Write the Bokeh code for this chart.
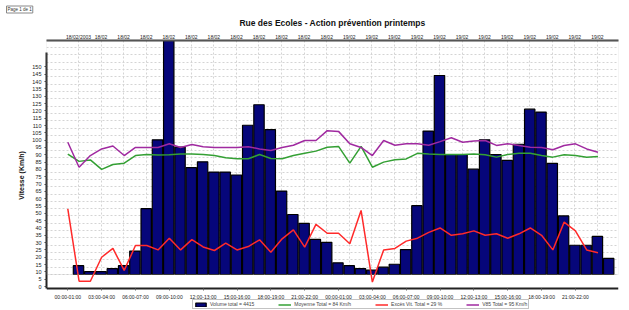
from bokeh.plotting import figure
from bokeh.models import (Range1d, LinearAxis, FixedTicker, Grid, Legend, LegendItem, Title,
                          BoxAnnotation)
from bokeh.embed import file_html
from bokeh.resources import INLINE

# ---------------- data ----------------
hours = list(range(48))

volume = [6, 2, 2, 4, 6, 16, 45, 92, 170, 87, 73, 77, 70, 70, 68, 102, 116, 99, 57, 41, 35, 24, 22, 8,
          6, 4, 3, 5, 7, 17, 47, 98, 136, 82, 82, 72, 92, 82, 78, 89, 113, 111, 76, 40, 20, 20, 26, 11]

moyenne = [90.5, 85.5, 86.5, 80, 83.4, 84.3, 89.5, 90.2, 89.8, 90, 90.5, 90.5, 90.2, 89.5, 88, 87.3,
           87.3, 90.2, 87.5, 87.3, 89.5, 91, 92.5, 95.2, 95.7, 84.3, 95.7, 81.5, 85, 86.6, 87.2, 91,
           90.5, 90.2, 90.2, 90.2, 90.5, 90, 88.4, 90.2, 91, 91, 89.5, 88.4, 90, 89.5, 88.4, 88.9]

exces = [53, 3.6, 3.6, 20, 26, 11, 28, 28, 25, 33, 25, 32, 27, 24.6, 29.6, 25, 27.3, 31.9, 23.4, 32.6,
         38.7, 26.9, 42.4, 36.4, 36.4, 29.2, 52, 3, 25, 26, 31, 33, 37, 40, 35, 36, 38, 35, 36, 33,
         36, 40, 35, 25, 44, 38, 25, 23]

v85 = [98.6, 81.5, 89.5, 94, 96, 89.5, 95, 95, 95, 97.5, 95, 97, 95.5, 95, 95, 95, 95.5, 94, 93, 95,
       96.5, 99.8, 99.8, 106.5, 106, 97.5, 95, 89.5, 99.8, 96.5, 97.5, 97.5, 96.5, 99, 101.6, 98.6,
       99.5, 99.8, 96.4, 97.5, 96.4, 95.2, 95, 93.4, 96.4, 97.5, 94, 91.8]

y_ticks = list(range(0, 155, 5))
bottom_ticks = list(range(0, 48, 3))
bottom_labels = ["00:00-01:00", "03:00-04:00", "06:00-07:00", "09:00-10:00",
                 "12:00-13:00", "15:00-16:00", "18:00-19:00", "21:00-22:00"] * 2
top_ticks = list(range(0, 48, 2))
top_labels = ["18/02/2003"] + ["18/02"] * 11 + ["19/02"] * 12

title_text = "Rue des Ecoles - Action prévention printemps"
legend_labels = ["Volume total = 4415", "Moyenne Total = 84 Km/h",
                 "Excès Vit. Total = 29 %", "V85 Total = 95 Km/h"]
page_text = "Page 1 de 1"

FONT = "Liberation Sans"

# ---------------- figure ----------------
# front plane (axes, lines) and back plane (bars, wall grid) of the 3-D look;
# the frame reaches the bottom so that the legend can sit under the time axis
p = figure(frame_width=572, frame_height=270, output_backend="svg", toolbar_location=None,
           x_range=Range1d(-1.888, 48.82), y_range=Range1d(-16.4, 168.1),
           x_axis_location=None, y_axis_location=None,
           min_border_left=46, min_border_right=11, min_border_top=40, min_border_bottom=0,
           title=None)
p.extra_x_ranges = {"back": Range1d(-2.837, 47.87)}
p.extra_y_ranges = {"back": Range1d(-24.6, 159.9)}
p.xgrid.visible = False
p.ygrid.visible = False
p.outline_line_color = None
p.background_fill_color = "white"
p.border_fill_color = "white"

# back wall border
wall = BoxAnnotation(bottom=0, y_range_name="back", fill_alpha=0, line_color="#bdbdbd",
                     line_width=1)
p.add_layout(wall)

# grids on the back wall
gy = Grid(dimension=1, ticker=FixedTicker(ticks=list(range(0, 160, 5))), y_range_name="back",
          grid_line_color="#d4d4d4", grid_line_dash="2 2", grid_line_width=1)
gx = Grid(dimension=0, ticker=FixedTicker(ticks=top_ticks), x_range_name="back", y_range_name="back",
          cross_bounds=(0, 159.9),
          grid_line_color="#d4d4d4", grid_line_dash="2 2", grid_line_width=1)
p.add_layout(gy, "center")
p.add_layout(gx, "center")

# axes
yaxis = LinearAxis(ticker=FixedTicker(ticks=y_ticks), bounds=(-1.37, 160),
                   axis_label="Vitesse (Km/h)", axis_label_text_font=FONT,
                   axis_label_text_font_size="7px", axis_label_text_font_style="bold",
                   axis_label_standoff=4, axis_label_text_color="#111111",
                   major_label_text_font=FONT, major_label_text_font_size="5.5px",
                   major_label_text_color="#222222", major_label_standoff=3,
                   major_tick_in=0, major_tick_out=2, minor_tick_out=0, minor_tick_in=0,
                   axis_line_color="#222222", axis_line_width=2, major_tick_line_color="#444444")
p.add_layout(yaxis, "left")

xb = LinearAxis(ticker=FixedTicker(ticks=bottom_ticks), fixed_location=-1.37,
                major_label_overrides={t: l for t, l in zip(bottom_ticks, bottom_labels)},
                major_label_text_font=FONT, major_label_text_font_size="5px",
                major_label_text_color="#222222", major_label_standoff=3,
                major_tick_in=0, major_tick_out=2, minor_tick_out=0, minor_tick_in=0,
                axis_line_color="#222222", axis_line_width=2, major_tick_line_color="#666666")
p.add_layout(xb, "below")

xt = LinearAxis(x_range_name="back", ticker=FixedTicker(ticks=top_ticks),
                major_label_overrides={t: l for t, l in zip(top_ticks, top_labels)},
                major_label_text_font=FONT, major_label_text_font_size="5px",
                major_label_text_color="#222222", major_label_standoff=1,
                major_tick_in=0, major_tick_out=0, minor_tick_out=0, minor_tick_in=0,
                axis_line_color="#444444", axis_line_width=2)
p.add_layout(xt, "above")

main_title = Title(text=title_text, align="center", text_font=FONT, text_font_size="8.5px",
                   text_font_style="bold", text_color="#111111", standoff=5)
p.add_layout(main_title, "above")
page_title = Title(text=page_text, align="left", offset=-40, text_font=FONT,
                   text_font_size="4.5px", text_font_style="normal", text_color="#333333",
                   border_line_color="#888888", padding=1, standoff=1)
p.add_layout(page_title, "above")

# bars (back plane)
bars = p.vbar(x=hours, top=volume, bottom=0, width=0.92, x_range_name="back", y_range_name="back",
              fill_color="#06067a", line_color="#000000", line_width=1.2)

# lines (front plane)
l_moy = p.line(hours, moyenne, line_color="#34a034", line_width=1.5)
l_exc = p.line(hours, exces, line_color="#ff2a2a", line_width=1.5)
l_v85 = p.line(hours, v85, line_color="#a02aa0", line_width=1.5)

legend = Legend(items=[LegendItem(label=legend_labels[0], renderers=[bars]),
                       LegendItem(label=legend_labels[1], renderers=[l_moy]),
                       LegendItem(label=legend_labels[2], renderers=[l_exc]),
                       LegendItem(label=legend_labels[3], renderers=[l_v85])],
                orientation="horizontal", location=(146, 1),
                label_text_font=FONT, label_text_font_size="5px", label_height=5,
                glyph_height=5, glyph_width=13, label_standoff=3, spacing=24,
                padding=1, margin=0, border_line_color="#888888", border_line_width=1,
                background_fill_alpha=1)
p.add_layout(legend, "center")

open("out.html", "w").write(file_html(p, INLINE))
